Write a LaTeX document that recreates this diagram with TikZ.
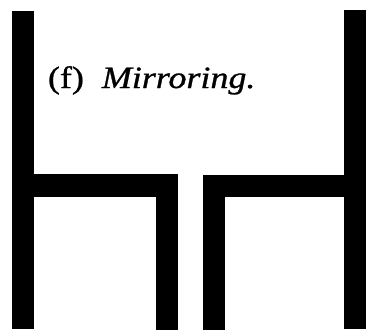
\documentclass[tikz,border=0pt]{standalone}
\usepackage{fontspec}
\setmainfont{Liberation Serif}
\newfontfamily\capfont{Liberation Serif}[FakeBold=0.8]
\begin{document}
\begin{tikzpicture}[x=1pt,y=-1pt,
  bar/.style={fill=black,draw=none},
  caption/.style={anchor=base west,inner sep=0pt,outer sep=0pt,font=\capfont\fontsize{31}{34}\selectfont}]
\useasboundingbox (0,0) rectangle (366,333);
% left piece
\fill[bar] (12,11) rectangle (34,329);
\fill[bar] (12,174) rectangle (178,197);
\fill[bar] (156,174) rectangle (178,330);
% right piece (mirror)
\fill[bar] (344,10) rectangle (366,329);
\fill[bar] (203,175) rectangle (366,197);
\fill[bar] (203,175) rectangle (225,330);
\node[caption] (cap) at (48,88) {\scalebox{1.16}[1]{(f)\hspace{0.5em}\textit{Mirroring.}}};
\end{tikzpicture}
\end{document}
